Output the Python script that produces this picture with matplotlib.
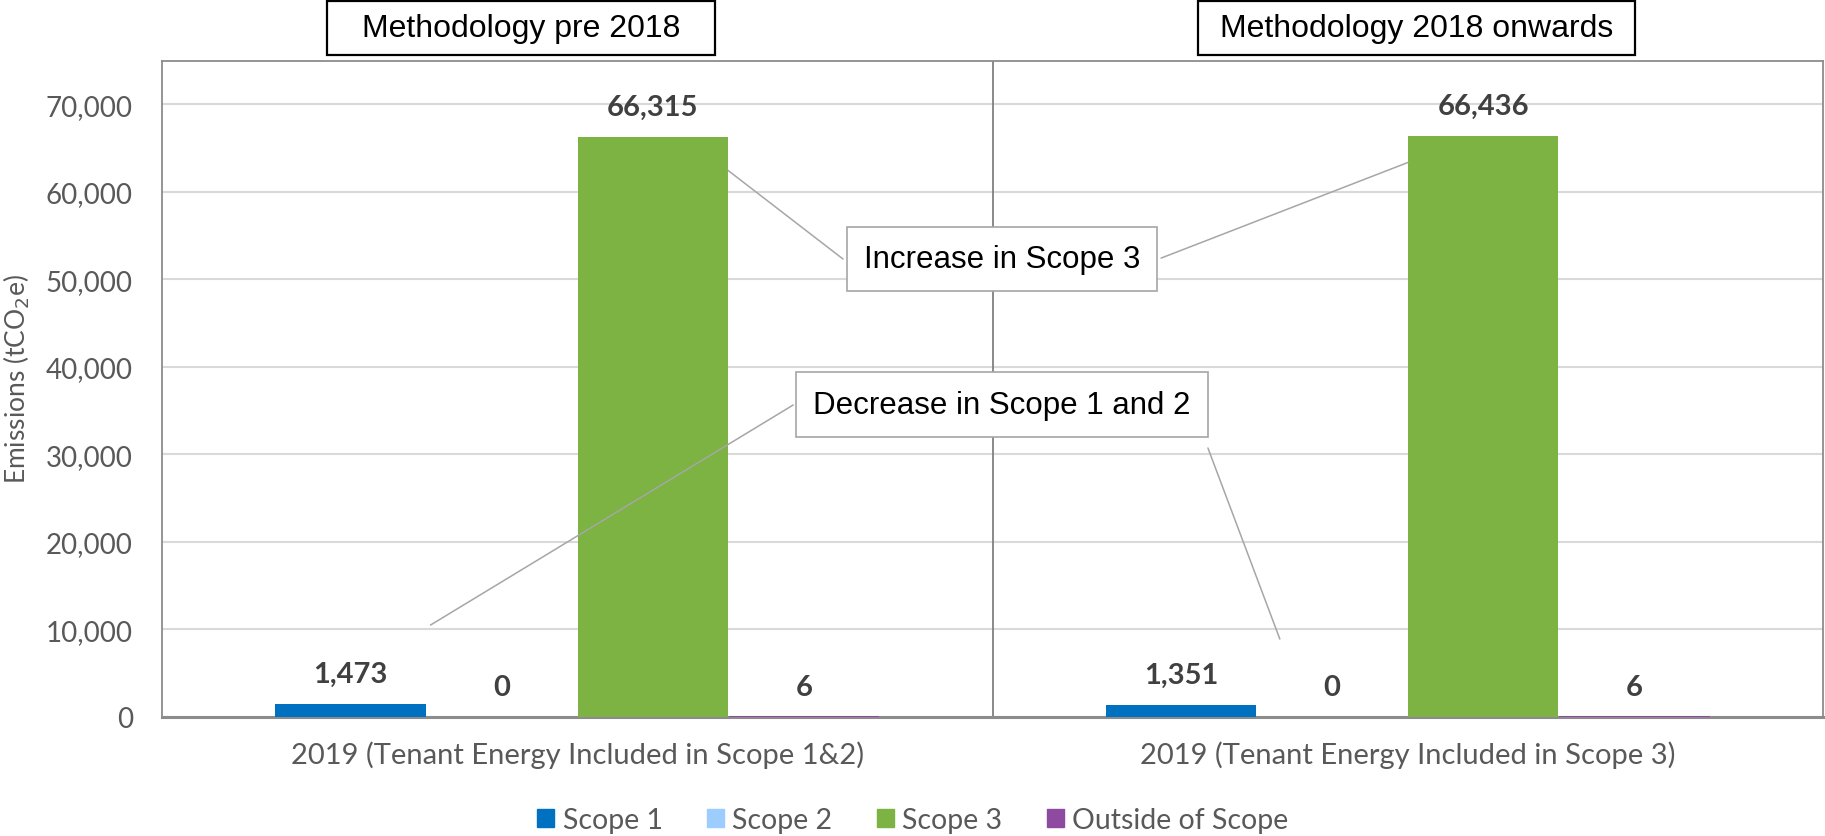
import matplotlib
matplotlib.use("Agg")
import matplotlib.pyplot as plt
from matplotlib.patches import Rectangle, Patch
from matplotlib.ticker import StrMethodFormatter
import numpy as np

# data
categories = ["2019 (Tenant Energy Included in Scope 1&2)",
              "2019 (Tenant Energy Included in Scope 3)"]
series = ["Scope 1", "Scope 2", "Scope 3", "Outside of Scope"]
scope1 = [1473, 1351]
scope2 = [0, 0]
scope3 = [66315, 66436]
outside = [6, 6]
colors = ["#0070C0", "#9DCCFF", "#7CB342", "#8E4AA0"]
yticks = [0, 10000, 20000, 30000, 40000, 50000, 60000, 70000]
titles = ["Methodology pre 2018", "Methodology 2018 onwards"]

W, H = 1825, 837
FONT = "Lato"
ARIAL = "Liberation Sans"

fig = plt.figure(figsize=(W / 100, H / 100), dpi=100)
ax = fig.add_axes([162 / W, 1 - 717.5 / H, (1823 - 162) / W, (717.5 - 61.7) / H])

x = np.arange(len(categories))
step = 0.182
width = 0.181
values = [scope1, scope2, scope3, outside]
for i, (name, vals) in enumerate(zip(series, values)):
    bars = ax.bar(x + (i - 1.5) * step, vals, width, color=colors[i], label=name, zorder=3)
    ax.bar_label(bars, labels=[f"{v:,}" for v in vals], padding=12,
                 fontsize=21, fontweight="bold", color="#404040", family=FONT)

ax.set_xlim(-0.5, 1.5)
ax.set_ylim(0, 75000)
ax.set_yticks(yticks)
ax.yaxis.set_major_formatter(StrMethodFormatter("{x:,.0f}"))
ax.set_xticks(x)
ax.set_xticklabels(categories)
ax.tick_params(axis="both", length=0, colors="#595959")
ax.tick_params(axis="y", pad=21, labelsize=20)
ax.tick_params(axis="x", pad=17, labelsize=21)
for lab in ax.get_xticklabels() + ax.get_yticklabels():
    lab.set_family(FONT)

ax.grid(axis="y", color="#d9d9d9", lw=1.5, zorder=0)
ax.axvline(0.5, color="#808080", lw=1.3, zorder=2)
for s in ax.spines.values():
    s.set_color("#8c8c8c")
    s.set_linewidth(1.3)
ax.spines["bottom"].set_linewidth(2.2)

ax.set_ylabel("Emissions (tCO$_2$e)", fontsize=19, color="#595959", family=FONT)
ax.yaxis.set_label_coords(-0.078, 0.516)

# callout boxes
box_kw = dict(boxstyle="square,pad=0.55", fc="white", ec="#a6a6a6", lw=1.2)
ax.text(0.5057, 0.698, "Increase in Scope 3", transform=ax.transAxes, ha="center",
        va="center", fontsize=22.5, family=ARIAL, color="black", bbox=box_kw, zorder=6)
ax.text(0.5057, 0.4757, "Decrease in Scope 1 and 2", transform=ax.transAxes, ha="center",
        va="center", fontsize=22.5, family=ARIAL, color="black", bbox=box_kw, zorder=6)

line_kw = dict(arrowstyle="-", color="#a6a6a6", lw=1.1, shrinkA=0, shrinkB=0)
ax.annotate("", xy=(x[0] + 0.5 * step + width / 2, 62457), xytext=(0.41, 0.6976),
            textcoords="axes fraction", arrowprops=line_kw, zorder=5)
ax.annotate("", xy=(x[1] + 0.5 * step - width / 2, 63371), xytext=(0.6015, 0.699),
            textcoords="axes fraction", arrowprops=line_kw, zorder=5)
ax.annotate("", xy=(-0.1767, 10457), xytext=(0.380, 0.475),
            textcoords="axes fraction", arrowprops=line_kw, zorder=5)
ax.annotate("", xy=(0.846, 8857), xytext=(0.6297, 0.4094),
            textcoords="axes fraction", arrowprops=line_kw, zorder=5)

# methodology header boxes
for (x0, x1), t in zip([(327, 715), (1198, 1634.5)], titles):
    fig.patches.append(Rectangle((x0 / W, 1 - 56 / H), (x1 - x0) / W, 54 / H,
                                 transform=fig.transFigure, fc="white", ec="black", lw=1.6))
    fig.text((x0 + x1) / 2 / W, 1 - 29 / H, t, ha="center", va="center",
             fontsize=23, family=ARIAL, color="black")

handles = [Patch(color=c, label=s) for c, s in zip(colors, series)]
fig.legend(handles=handles, loc="center", bbox_to_anchor=(912.7 / W, 1 - 821 / H),
           ncol=4, frameon=False, handlelength=0.6, handleheight=0.6,
           handletextpad=0.3, columnspacing=1.55,
           prop={"family": FONT, "size": 20.5}, labelcolor="#595959")

fig.savefig("out.png", dpi=100)
